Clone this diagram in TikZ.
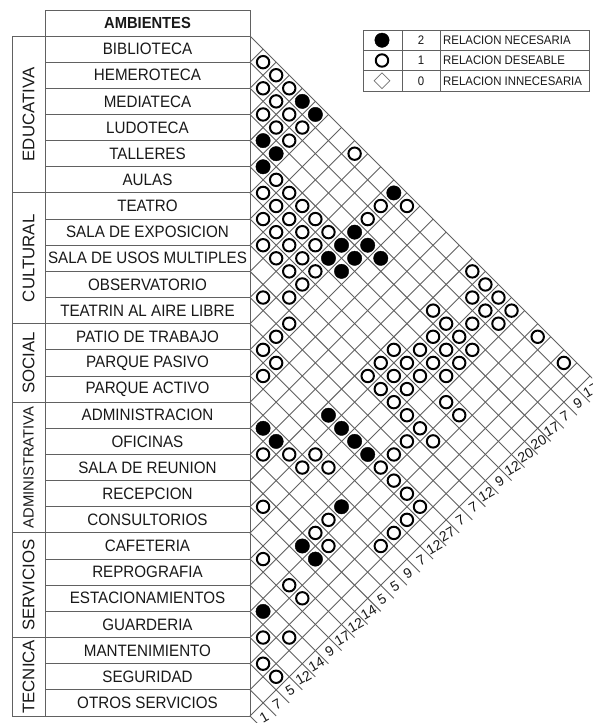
\documentclass[tikz,border=0pt]{standalone}
\usepackage{fontspec}
\setmainfont{Liberation Sans}
\newfontfamily\narrowf[FakeStretch=0.92]{Liberation Sans}
\usetikzlibrary{shapes.geometric}
\def\d{13.0769}
\begin{document}
\begin{tikzpicture}[x=1pt,y=-1pt,
  gridline/.style={draw=black!62, line width=0.9pt},
  tabline/.style={draw=black!62, line width=1pt},
  opencirc/.style={circle, draw=black, line width=2pt, fill=white, minimum size=12.4pt, inner sep=0pt},
  fullcirc/.style={circle, fill=black, draw=black, line width=0.4pt, minimum size=14.4pt, inner sep=0pt},
  rowname/.style={inner sep=0pt, font=\narrowf\fontsize{16.5}{16.5}\selectfont, text=black!90},
  catname/.style={inner sep=0pt, rotate=90, font=\fontsize{16.8}{16.8}\selectfont, text=black!90},
  sumnum/.style={inner sep=0pt, rotate=30, font=\fontsize{14}{14}\selectfont, text=black!90},
  legtext/.style={inner sep=0pt, font=\narrowf\fontsize{12.4}{12.4}\selectfont, text=black!90},
  legdia/.style={diamond, draw=black!55, line width=0.7pt, minimum width=16pt, minimum height=16pt, inner sep=0pt}
]
\useasboundingbox (0,0) rectangle (592,723);
\clip (0,0) rectangle (592,723);
\fill[white] (0,0) rectangle (592,723);

% ---- lattice of the relation matrix ----
\foreach \k in {0,...,26}
  \draw[gridline] (250,{36+2*\k*\d}) -- ++({(27-\k)*\d},{(27-\k)*\d});
\foreach \k in {1,...,26}
  \draw[gridline] (250,{36+2*\k*\d}) -- ++({\k*\d},{-\k*\d});

% ---- table ----
\draw[tabline] (45,10) rectangle (250,36);
\foreach \k in {0,...,26}
  \draw[tabline] (45,{36+2*\k*\d}) -- (250,{36+2*\k*\d});
\draw[tabline] (45,36) -- (45,716);
\draw[tabline] (250,36) -- (250,716);
\draw[tabline] (12,36) -- (12,716);
\foreach \k in {0,6,11,14,19,23,26}
  \draw[tabline] (12,{36+2*\k*\d}) -- (45,{36+2*\k*\d});

\node[rowname, font=\narrowf\bfseries\fontsize{16}{16}\selectfont] (head) at (147.5,23) {AMBIENTES};
\foreach \n [count=\i] in {BIBLIOTECA, HEMEROTECA, MEDIATECA, LUDOTECA, TALLERES, AULAS,
  TEATRO, SALA DE EXPOSICION, SALA DE USOS MULTIPLES, OBSERVATORIO, TEATRIN AL AIRE LIBRE,
  PATIO DE TRABAJO, PARQUE PASIVO, PARQUE ACTIVO,
  ADMINISTRACION, OFICINAS, SALA DE REUNION, RECEPCION, CONSULTORIOS,
  CAFETERIA, REPROGRAFIA, ESTACIONAMIENTOS, GUARDERIA,
  MANTENIMIENTO, SEGURIDAD, OTROS SERVICIOS}
  \node[rowname] (r\i) at (147.5,{36+(2*\i-1)*\d}) {\n};

\node[catname] (c1) at (28.5,{36+6*\d}) {EDUCATIVA};
\node[catname] (c2) at (28.5,{36+17*\d}) {CULTURAL};
\node[catname] (c3) at (28.5,{36+25*\d}) {SOCIAL};
\node[catname, font=\fontsize{14.8}{14.8}\selectfont] (c4) at (28.5,{36+33*\d}) {ADMINISTRATIVA};
\node[catname] (c5) at (28.5,{36+42*\d}) {SERVICIOS};
\node[catname] (c6) at (28.5,{36+49*\d}) {TECNICA};

% ---- relations ----
\foreach \i/\j in {1/2,1/3,2/3,1/4,2/4,3/4,2/5,3/5,2/6,3/6,1/9,5/7,6/7,5/8,6/8,5/9,2/12,1/13,
  7/8,6/9,5/10,3/12,7/9,6/10,5/11,8/9,7/10,6/11,8/10,7/11,8/11,7/12,8/12,10/11,9/12,
  4/18,10/13,11/13,5/19,12/13,7/18,6/19,1/18,1/19,2/19,1/20,2/20,1/21,4/19,3/20,2/21,
  4/20,1/23,5/20,4/21,8/18,7/19,6/20,5/21,1/25,7/20,6/21,9/19,8/20,9/20,7/22,9/21,7/23,
  9/22,12/14,13/14,9/18,8/19,10/22,9/23,16/17,15/18,14/19,11/22,15/19,14/20,12/22,12/23,
  12/24,12/25,18/19,13/25,14/25,15/25,16/22,17/22,17/23,20/21,20/23,20/24,23/24,22/25,
  24/25,24/26}
  \node[opencirc] (o\i-\j) at ({250+(\j-\i)*\d},{36+(\i+\j-1)*\d}) {};
\foreach \i/\j in {1/5,1/6,4/5,4/6,5/6,1/12,4/12,5/12,4/13,6/12,5/13,4/14,6/13,12/18,15/16,
  12/19,15/17,12/20,12/21,15/22,18/22,18/23,22/23}
  \node[fullcirc] (f\i-\j) at ({250+(\j-\i)*\d},{36+(\i+\j-1)*\d}) {};

% ---- sums ----
\foreach \s [count=\i] in {17,9,7,17,20,20,12,9,12,7,7,27,12,7,9,5,5,14,12,17,9,14,12,5,7,1}
  \node[sumnum] (s\i) at ({250+(27-\i)*\d+1},{36+(\i+26)*\d+1}) {\s};

% ---- legend ----
\draw[tabline] (363,30) rectangle (589,91);
\draw[tabline] (363,50.3) -- (589,50.3);
\draw[tabline] (363,70.7) -- (589,70.7);
\draw[tabline] (402,30) -- (402,91);
\draw[tabline] (440,30) -- (440,91);
\node[fullcirc] (lg1) at (382,40.2) {};
\node[opencirc] (lg2) at (382,60.5) {};
\node[legdia] (lg3) at (382,80.8) {};
\node[legtext] (ln1) at (421,40.2) {2};
\node[legtext] (ln2) at (421,60.5) {1};
\node[legtext] (ln3) at (421,80.8) {0};
\node[legtext, anchor=west] (lt1) at (443,40.2) {RELACION NECESARIA};
\node[legtext, anchor=west] (lt2) at (443,60.5) {RELACION DESEABLE};
\node[legtext, anchor=west] (lt3) at (443,80.8) {RELACION INNECESARIA};
\end{tikzpicture}
\end{document}
